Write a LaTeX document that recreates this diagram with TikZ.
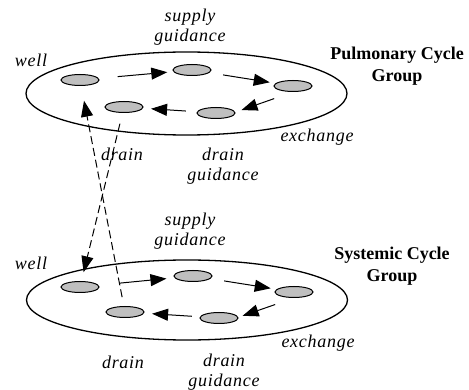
\documentclass[tikz,border=0pt]{standalone}
\usepackage{fontspec}
\setmainfont{Liberation Serif}
\usetikzlibrary{shapes.geometric,arrows.meta}
\tikzset{
  cyc/.style={draw, ellipse, line width=1.3pt, minimum width=321pt, minimum height=83pt, inner sep=0pt},
  unit/.style={draw, ellipse, fill=black!25, line width=1pt, minimum width=38pt, minimum height=11pt, inner sep=0pt},
  flow/.style={line width=1pt, -{Triangle[length=16pt,width=12pt]}},
  link/.style={flow, dash pattern=on 8pt off 4pt},
  lbl/.style={inner sep=0pt, align=center, font=\fontsize{18}{20}\selectfont\itshape\addfontfeatures{LetterSpace=4}},
  grp/.style={inner sep=0pt, align=center, font=\fontsize{18}{22}\selectfont\bfseries}
}
\begin{document}
\begin{tikzpicture}[x=1pt,y=-1pt]
\useasboundingbox (0,0) rectangle (469,390);

\node[cyc] (pulm) at (186.5,93.5) {};
\node[cyc, minimum height=80pt] (syst) at (187,300) {};

\node[unit] (pw) at (80,80) {};
\node[unit] (ps) at (192,70) {};
\node[unit] (pe) at (293,86) {};
\node[unit] (pg) at (216,113) {};
\node[unit] (pd) at (124,107) {};

\node[unit] (sw) at (80,287) {};
\node[unit] (ss) at (193,276) {};
\node[unit] (se) at (294,292) {};
\node[unit] (sg) at (219,318) {};
\node[unit] (sd) at (125,312) {};

\draw[flow, shorten <=19pt, shorten >=6pt] (pw) -- (ps);
\draw[flow, shorten <=14pt, shorten >=6pt] (ps) -- (pe);
\draw[flow, shorten <=20pt, shorten >=27pt] (pe.south) -- (pg.south);
\draw[flow, shorten <=11pt, shorten >=8pt] (pg) -- (pd);

\draw[flow, shorten <=21pt, shorten >=8pt] (sw) -- (ss);
\draw[flow, shorten <=14pt, shorten >=6pt] (ss) -- (se);
\draw[flow, shorten <=20pt, shorten >=25pt] (se.south) -- (sg.south);
\draw[flow, shorten <=8pt, shorten >=8pt] (sg) -- (sd);

\draw[link, shorten <=11pt, shorten >=9pt] (pd) -- (sw);
\draw[link, shorten <=9pt, shorten >=15pt] (sd) -- (pw);

\node[lbl] (pwell) at (31,60) {well};
\node[lbl] (psupply) at (190,27) {supply\\guidance};
\node[grp] (pname) at (397,66) {Pulmonary Cycle\\Group};
\node[lbl] (pexch) at (317,137) {exchange};
\node[lbl] (pdrain) at (122,154) {drain};
\node[lbl] (pdg) at (223,166) {drain\\guidance};

\node[lbl] (swell) at (31,263) {well};
\node[lbl] (ssupply) at (190,231) {supply\\guidance};
\node[grp] (sname) at (392,266) {Systemic Cycle\\Group};
\node[lbl] (sexch) at (318,343) {exchange};
\node[lbl] (sdrain) at (123,362) {drain};
\node[lbl] (sdg) at (224,372) {drain\\guidance};
\end{tikzpicture}
\end{document}
